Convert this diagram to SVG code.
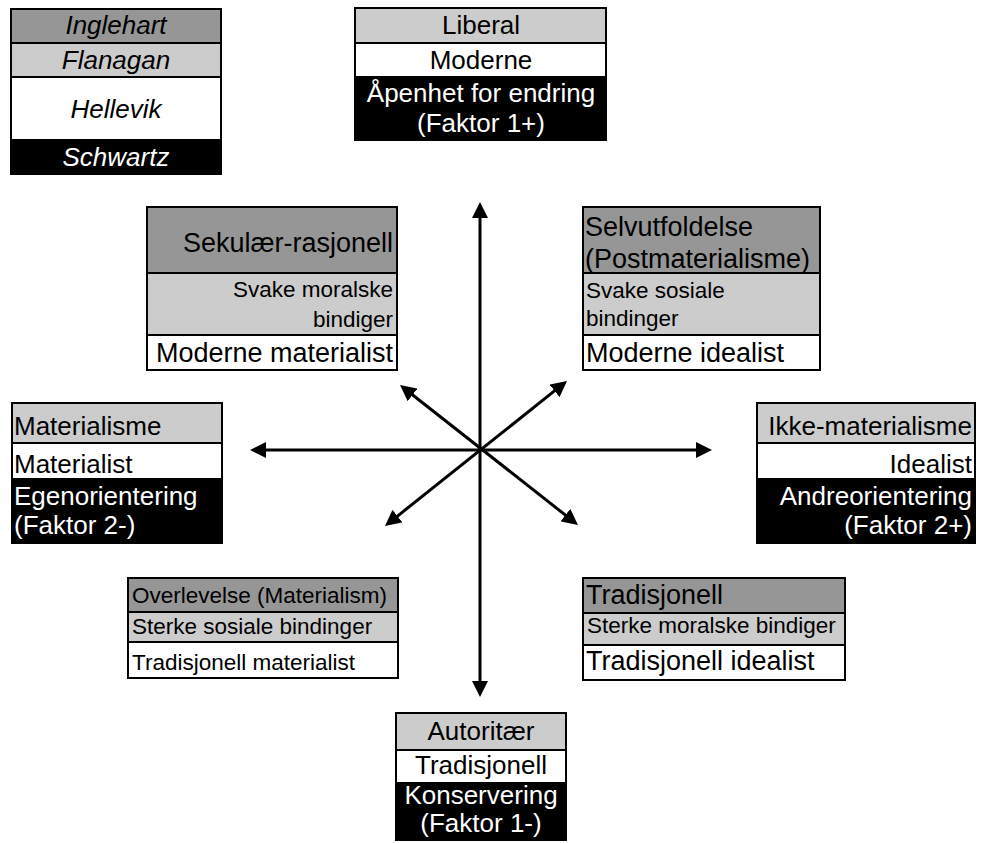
<svg xmlns="http://www.w3.org/2000/svg" width="981" height="843" viewBox="0 0 981 843">
<defs>
<marker id="ah" markerUnits="userSpaceOnUse" markerWidth="16" markerHeight="16" refX="6" refY="8" orient="auto-start-reverse">
<path d="M0,0 L16,8 L0,16 z" fill="#000"/>
</marker>
<style>
text{font-family:"Liberation Sans",Arial,sans-serif;font-size:26px;fill:#000}
.w{fill:#fff}
.i{font-style:italic}
.s{font-size:22.5px}
.b{font-size:27px}
.m{text-anchor:middle}
.e{text-anchor:end}
.dg{fill:#969696}
.lg{fill:#cccccc}
.wh{fill:#ffffff}
.bk{fill:#000000}
.ln{stroke:#000;stroke-width:2;fill:none}
.ar{stroke:#000;stroke-width:3;fill:none;marker-start:url(#ah);marker-end:url(#ah)}
</style>
</defs>
<rect width="981" height="843" fill="#fff"/>

<g id="connectors">
<line class="ar" x1="480" y1="212" x2="480" y2="687"/>
<line class="ar" x1="260" y1="450" x2="702" y2="450"/>
<line class="ar" x1="407.9" y1="391.2" x2="570.1" y2="518.8"/>
<line class="ar" x1="559.2" y1="387.2" x2="392.8" y2="519.8"/>
</g>

<g id="legend">
<rect class="dg" x="11" y="9" width="210" height="34"/>
<rect class="lg" x="11" y="43" width="210" height="34"/>
<rect class="wh" x="11" y="77" width="210" height="62"/>
<rect class="bk" x="11" y="139" width="210" height="35"/>
<rect class="ln" x="11" y="9" width="210" height="165"/>
<line class="ln" x1="11" y1="43" x2="221" y2="43"/>
<line class="ln" x1="11" y1="77" x2="221" y2="77"/>
<text class="i m" x="116" y="34">Inglehart</text>
<text class="i m" x="116" y="69">Flanagan</text>
<text class="i m" x="116" y="118">Hellevik</text>
<text class="i m w" x="116" y="166">Schwartz</text>
</g>

<g id="top">
<rect class="lg" x="355" y="8" width="251" height="35"/>
<rect class="wh" x="355" y="43" width="251" height="33"/>
<rect class="bk" x="355" y="76" width="251" height="64"/>
<rect class="ln" x="355" y="8" width="251" height="132"/>
<line class="ln" x1="355" y1="43" x2="606" y2="43"/>
<text class="m" x="481" y="34">Liberal</text>
<text class="m" x="481" y="69">Moderne</text>
<text class="m w" x="481" y="102">Åpenhet for endring</text>
<text class="m w" x="481" y="132">(Faktor 1+)</text>
</g>

<g id="upper-left">
<rect class="dg" x="147" y="207" width="250" height="66"/>
<rect class="lg" x="147" y="273" width="250" height="62"/>
<rect class="wh" x="147" y="335" width="250" height="35"/>
<rect class="ln" x="147" y="207" width="250" height="163"/>
<line class="ln" x1="147" y1="273" x2="397" y2="273"/>
<line class="ln" x1="147" y1="335" x2="397" y2="335"/>
<text class="b e" x="393" y="252">Sekulær-rasjonell</text>
<text class="s e" x="393" y="297">Svake moralske</text>
<text class="s e" x="393" y="327">bindiger</text>
<text class="b e" x="393" y="362">Moderne materialist</text>
</g>

<g id="upper-right">
<rect class="dg" x="583" y="207" width="237" height="66"/>
<rect class="lg" x="583" y="273" width="237" height="62"/>
<rect class="wh" x="583" y="335" width="237" height="35"/>
<rect class="ln" x="583" y="207" width="237" height="163"/>
<line class="ln" x1="583" y1="273" x2="820" y2="273"/>
<line class="ln" x1="583" y1="335" x2="820" y2="335"/>
<text class="b" x="585" y="236">Selvutfoldelse</text>
<text class="b" x="585" y="268">(Postmaterialisme)</text>
<text class="s" x="586" y="298">Svake sosiale</text>
<text class="s" x="586" y="326">bindinger</text>
<text class="b" x="586" y="362">Moderne idealist</text>
</g>

<g id="left">
<rect class="lg" x="12" y="403" width="210" height="40"/>
<rect class="wh" x="12" y="443" width="210" height="35"/>
<rect class="bk" x="12" y="478" width="210" height="65"/>
<rect class="ln" x="12" y="403" width="210" height="140"/>
<line class="ln" x1="12" y1="443" x2="222" y2="443"/>
<text x="14" y="435">Materialisme</text>
<text x="14" y="473">Materialist</text>
<text class="w" x="14" y="505">Egenorientering</text>
<text class="w" x="14" y="534">(Faktor 2-)</text>
</g>

<g id="right">
<rect class="lg" x="757" y="403" width="218" height="40"/>
<rect class="wh" x="757" y="443" width="218" height="35"/>
<rect class="bk" x="757" y="478" width="218" height="65"/>
<rect class="ln" x="757" y="403" width="218" height="140"/>
<line class="ln" x1="757" y1="443" x2="975" y2="443"/>
<text class="e" x="972" y="435">Ikke-materialisme</text>
<text class="e" x="972" y="473">Idealist</text>
<text class="e w" x="972" y="505">Andreorientering</text>
<text class="e w" x="972" y="534">(Faktor 2+)</text>
</g>

<g id="lower-left">
<rect class="dg" x="128" y="578" width="270" height="34"/>
<rect class="lg" x="128" y="612" width="270" height="30"/>
<rect class="wh" x="128" y="642" width="270" height="36"/>
<rect class="ln" x="128" y="578" width="270" height="100"/>
<line class="ln" x1="128" y1="612" x2="398" y2="612"/>
<line class="ln" x1="128" y1="642" x2="398" y2="642"/>
<text class="s" x="132" y="603">Overlevelse (Materialism)</text>
<text class="s" x="132" y="634">Sterke sosiale bindinger</text>
<text class="s" x="132" y="670">Tradisjonell materialist</text>
</g>

<g id="lower-right">
<rect class="dg" x="583" y="578" width="262" height="35"/>
<rect class="lg" x="583" y="613" width="262" height="32"/>
<rect class="wh" x="583" y="645" width="262" height="35"/>
<rect class="ln" x="583" y="578" width="262" height="102"/>
<line class="ln" x1="583" y1="613" x2="845" y2="613"/>
<line class="ln" x1="583" y1="645" x2="845" y2="645"/>
<text class="b" x="586" y="604">Tradisjonell</text>
<text class="s" x="587" y="633">Sterke moralske bindiger</text>
<text class="b" x="586" y="670">Tradisjonell idealist</text>
</g>

<g id="bottom">
<rect class="lg" x="396" y="713" width="170" height="37"/>
<rect class="wh" x="396" y="750" width="170" height="32"/>
<rect class="bk" x="396" y="782" width="170" height="58"/>
<rect class="ln" x="396" y="713" width="170" height="127"/>
<line class="ln" x1="396" y1="750" x2="566" y2="750"/>
<text class="m" x="481" y="740">Autoritær</text>
<text class="m" x="481" y="774">Tradisjonell</text>
<text class="m w" x="481" y="804">Konservering</text>
<text class="m w" x="481" y="832">(Faktor 1-)</text>
</g>
</svg>
